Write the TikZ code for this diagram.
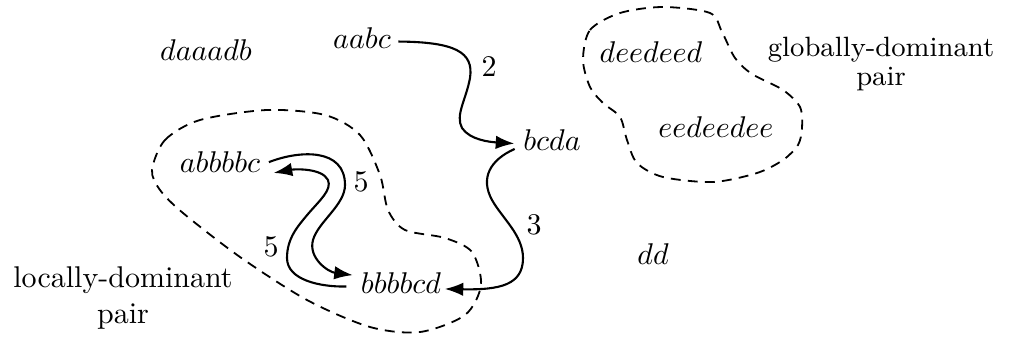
\documentclass[tikz,border=0pt]{standalone}
\usetikzlibrary{arrows.meta}
\begin{document}
\begin{tikzpicture}[x=0.3333pt,y=-0.3333pt,
  word/.style={inner sep=1pt,anchor=base},
  num/.style={inner sep=0pt},
  edge/.style={line width=0.7pt},
  arr/.style={edge,-{Latex[length=6.2pt,width=4.5pt]}},
  blob/.style={line width=0.6pt,dash pattern=on 3.3pt off 2.4pt},
  caption/.style={align=center,inner sep=0pt}]
\useasboundingbox (0,0) rectangle (1010,341);

% words
\node[word] (daaadb)   at (206,60)  {$daaadb$};
\node[word] (aabc)     at (362,48)  {$aabc$};
\node[word] (bcda)     at (552,150) {$bcda$};
\node[word] (abbbbc)   at (220,172.5) {$abbbbc$};
\node[word] (bbbbcd)   at (401,293) {$bbbbcd$};
\node[word] (deedeed)  at (651,62)  {$deedeed$};
\node[word] (eedeedee) at (716,137) {$eedeedee$};
\node[word] (dd)       at (653,264) {$dd$};

% captions
\node[caption] (loc) at (123,298) {locally-dominant\\pair};
\node[caption,font=\fontsize{9.3pt}{9.4pt}\selectfont] (glob) at (881,64) {globally-dominant\\pair};

% weights
\node[num] (w2)  at (489,67)  {2};
\node[num] (w3)  at (534,225) {3};
\node[num] (w5a) at (361,182) {5};
\node[num] (w5b) at (271,247) {5};

% connectors
\draw[arr] ([xshift=1.3pt]aabc.mid east) .. controls (455,42) and (474,52) .. (470,78)
  .. controls (466,100) and (455,115) .. (462,128)
  .. controls (470,140) and (490,142) .. ([xshift=-1.8pt]bcda.mid west);

\draw[arr] ([xshift=-1.7pt,yshift=-1.8pt]bcda.mid west) .. controls (490,160) and (480,178) .. (492,200)
  .. controls (502,218) and (523,235) .. (523,258)
  .. controls (523,285) and (500,290) .. ([yshift=-0.8pt]bbbbcd.mid east);

% abbbbc -> bbbbcd
\draw[arr] ([xshift=1.7pt,yshift=1.3pt]abbbbc.mid east) .. controls (300,150) and (345,148) .. (345,185)
  .. controls (345,205) and (318,222) .. (313,240)
  .. controls (308,258) and (328,272) .. ([xshift=-1.5pt,yshift=3.8pt]bbbbcd.mid west);

% bbbbcd -> abbbbc
\draw[arr] ([xshift=-3.7pt]bbbbcd.mid west) .. controls (320,287) and (287,280) .. (287,258)
  .. controls (287,238) and (298,226) .. (308,214)
  .. controls (320,200) and (332,190) .. (328,180)
  .. controls (322,168) and (295,169) .. ([xshift=3.3pt,yshift=-2.3pt]abbbbc.mid east);

% dashed regions
\draw[blob] plot[smooth cycle] coordinates {(152,170) (165,140) (200,120) (267,110) (325,115)
  (360,135) (380,175) (388,210) (405,230) (445,238) (472,252) (481,285) (465,315) (420,332)
  (370,327) (307,300) (240,257) (183,213) (160,190)};
\draw[blob] plot[smooth cycle] coordinates {(583,60) (590,30) (620,13) (663,7) (710,13)
  (722,32) (735,58) (752,74) (783,90) (800,107) (802,128) (798,145) (783,160) (757,173)
  (713,182) (663,177) (637,163) (627,140) (620,117) (603,103) (590,87)};
\end{tikzpicture}
\end{document}
